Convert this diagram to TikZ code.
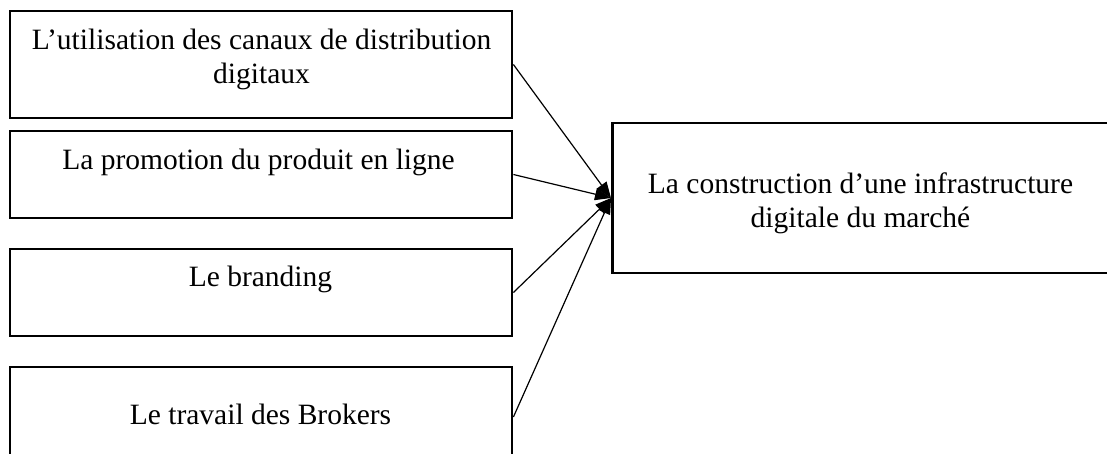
\documentclass[tikz,border=0pt]{standalone}
\usepackage{fontspec}
\setmainfont{Liberation Serif}
\usetikzlibrary{arrows.meta}
\begin{document}
\begin{tikzpicture}[x=1pt,y=-1pt,
  box/.style={draw=black, line width=2.8pt, inner sep=0pt},
  txt/.style={font=\fontsize{29.5}{34}\selectfont, align=center, inner sep=0pt},
  link/.style={draw=black, line width=1.2pt, -{Triangle[length=16pt,width=12pt]}}]
\useasboundingbox (0,0) rectangle (1107,454);
\node[box, minimum width=502pt, minimum height=107pt] (b1) at (261,64.5) {};
\node[box, minimum width=502pt, minimum height=87pt] (b2) at (261,174.5) {};
\node[box, minimum width=502pt, minimum height=87pt] (b3) at (261,292.5) {};
\node[box, minimum width=502pt, minimum height=100pt] (b4) at (261,417) {};
\node[box, minimum width=520pt, minimum height=150pt, anchor=west] (r) at (611,198) {};
\node[txt, anchor=base] (t1) at (261.5,84) {L’utilisation des canaux de distribution\\digitaux};
\node[txt, anchor=base] (t2) at (258.5,170) {La promotion du produit en ligne};
\node[txt, anchor=base] (t3) at (260.5,286) {Le branding};
\node[txt, anchor=base] (t4) at (260.5,424) {Le travail des Brokers};
\node[txt, anchor=base] (tr) at (860.5,228) {La construction d’une infrastructure\\digitale du marché};
\draw[link] (b1.east) -- (r.west);
\draw[link] (b2.east) -- (r.west);
\draw[link] (b3.east) -- (r.west);
\draw[link] (b4.east) -- (r.west);
\end{tikzpicture}
\end{document}
